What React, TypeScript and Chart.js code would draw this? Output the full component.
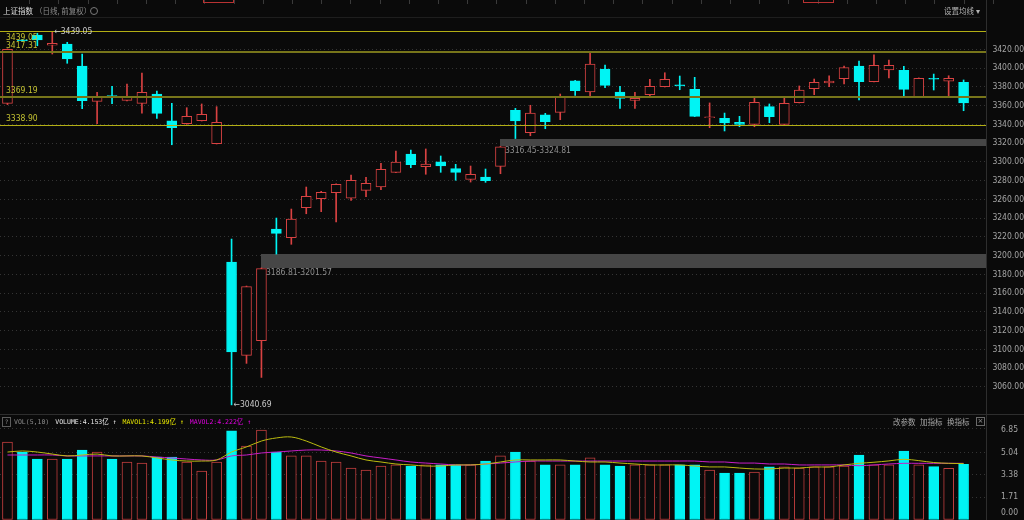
import React, { useEffect, useRef } from "react";
import { Chart, registerables } from "chart.js";

Chart.register(...registerables);

// ---------- data ----------
const DATES = [
  "2025-03-14", "2025-03-17", "2025-03-18", "2025-03-19", "2025-03-20", "2025-03-21", "2025-03-24", "2025-03-25",
  "2025-03-26", "2025-03-27", "2025-03-28", "2025-03-31", "2025-04-01", "2025-04-02", "2025-04-03", "2025-04-07",
  "2025-04-08", "2025-04-09", "2025-04-10", "2025-04-11", "2025-04-14", "2025-04-15", "2025-04-16", "2025-04-17",
  "2025-04-18", "2025-04-21", "2025-04-22", "2025-04-23", "2025-04-24", "2025-04-25", "2025-04-28", "2025-04-29",
  "2025-04-30", "2025-05-06", "2025-05-07", "2025-05-08", "2025-05-09", "2025-05-12", "2025-05-13", "2025-05-14",
  "2025-05-15", "2025-05-16", "2025-05-19", "2025-05-20", "2025-05-21", "2025-05-22", "2025-05-23", "2025-05-26",
  "2025-05-27", "2025-05-28", "2025-05-29", "2025-05-30", "2025-06-03", "2025-06-04", "2025-06-05", "2025-06-06",
  "2025-06-09", "2025-06-10", "2025-06-11", "2025-06-12", "2025-06-13", "2025-06-16", "2025-06-17", "2025-06-18",
  "2025-06-19",
];

const OPEN = [
  3362.4, 3430.0, 3435.3, 3424.3, 3425.7, 3402.2, 3364.5, 3370.0, 3365.6, 3362.4,
  3372.3, 3343.8, 3340.6, 3343.8, 3319.3, 3193.1, 3093.6, 3109.3, 3228.3, 3219.0,
  3251.0, 3260.6, 3267.0, 3261.1, 3269.6, 3273.1, 3288.8, 3308.3, 3294.8, 3300.1,
  3292.7, 3281.3, 3283.8, 3295.2, 3354.9, 3331.0, 3350.2, 3352.8, 3386.5, 3374.5,
  3399.0, 3374.5, 3365.6, 3371.6, 3380.1, 3381.5, 3377.3, 3347.0, 3346.4, 3342.1,
  3340.0, 3358.8, 3340.0, 3363.0, 3378.0, 3384.1, 3388.6, 3402.2, 3385.4, 3397.9,
  3397.6, 3369.1, 3388.5, 3385.9, 3384.8,
];
const HIGH = [
  3420.5, 3430.2, 3437.1, 3439.05, 3427.5, 3415.0, 3374.1, 3380.5, 3383.0, 3394.7,
  3375.5, 3362.4, 3357.7, 3361.7, 3358.8, 3217.6, 3167.5, 3186.81, 3240.0, 3249.6,
  3273.1, 3268.5, 3276.5, 3285.9, 3283.4, 3298.4, 3311.5, 3312.6, 3313.7, 3306.2,
  3297.3, 3295.5, 3292.3, 3316.45, 3357.0, 3360.3, 3351.7, 3372.3, 3387.0, 3417.1,
  3403.3, 3380.5, 3374.1, 3388.0, 3395.0, 3391.5, 3390.1, 3362.8, 3352.0, 3348.5,
  3369.1, 3361.7, 3367.7, 3380.9, 3388.3, 3391.8, 3402.2, 3407.5, 3414.2, 3408.6,
  3401.8, 3389.5, 3393.6, 3391.8, 3387.3,
];
const LOW = [
  3361.0, 3428.8, 3423.8, 3415.0, 3405.1, 3356.6, 3340.6, 3362.0, 3365.0, 3352.0,
  3346.4, 3318.2, 3340.0, 3343.5, 3319.0, 3040.69, 3085.0, 3070.0, 3201.57, 3212.0,
  3244.6, 3246.8, 3235.8, 3258.9, 3262.8, 3270.4, 3288.5, 3293.7, 3286.7, 3288.8,
  3280.3, 3278.4, 3278.1, 3287.3, 3324.81, 3327.8, 3335.3, 3344.9, 3370.9, 3368.4,
  3379.0, 3357.0, 3357.0, 3368.8, 3379.8, 3376.9, 3348.2, 3336.4, 3332.9, 3337.4,
  3337.4, 3341.7, 3339.8, 3362.8, 3371.6, 3380.1, 3383.0, 3365.9, 3385.2, 3389.4,
  3370.2, 3368.9, 3376.6, 3370.2, 3354.5,
];
const CLOSE = [
  3420.0, 3429.0, 3429.9, 3426.4, 3409.7, 3365.2, 3369.9, 3369.6, 3368.8, 3374.1,
  3351.7, 3336.4, 3348.5, 3350.7, 3342.0, 3097.1, 3166.8, 3186.0, 3223.7, 3239.0,
  3263.2, 3267.5, 3276.0, 3280.3, 3277.0, 3292.0, 3299.8, 3296.9, 3297.6, 3295.5,
  3288.8, 3286.7, 3279.9, 3316.1, 3343.5, 3352.0, 3342.8, 3368.8, 3375.8, 3404.3,
  3381.6, 3367.7, 3367.7, 3380.5, 3388.0, 3381.0, 3348.5, 3347.4, 3341.4, 3340.0,
  3363.5, 3348.1, 3362.4, 3376.6, 3384.8, 3386.2, 3400.4, 3385.4, 3402.9, 3402.9,
  3377.3, 3389.0, 3388.1, 3389.0, 3362.7,
];

// volume in 亿
const VOLUME = [
  5.81, 5.06, 4.54, 4.54, 4.54, 5.21, 5.06, 4.54, 4.32, 4.24,
  4.69, 4.69, 4.32, 3.65, 4.32, 6.63, 5.51, 6.70, 5.06, 4.77,
  4.77, 4.39, 4.32, 3.87, 3.72, 4.02, 4.10, 4.02, 4.10, 4.10,
  4.10, 4.10, 4.39, 4.77, 5.06, 4.39, 4.10, 4.10, 4.10, 4.62,
  4.10, 4.02, 4.10, 4.10, 4.10, 4.10, 4.10, 3.72, 3.50, 3.50,
  3.57, 3.95, 3.95, 3.87, 3.95, 3.95, 4.02, 4.84, 4.10, 4.10,
  5.14, 4.10, 3.97, 3.85, 4.153,
];
const MAVOL1 = [
  5.06, 5.14, 5.06, 4.91, 4.77, 4.84, 4.91, 4.77, 4.77, 4.77,
  4.62, 4.47, 4.39, 4.39, 4.47, 5.06, 5.44, 5.88, 6.11, 6.18,
  5.88, 5.44, 5.06, 4.77, 4.47, 4.32, 4.17, 4.10, 4.02, 4.02,
  4.10, 4.10, 4.17, 4.32, 4.47, 4.47, 4.47, 4.47, 4.39, 4.32,
  4.32, 4.24, 4.17, 4.10, 4.10, 4.10, 4.02, 3.95, 3.95, 3.87,
  3.80, 3.80, 3.87, 3.87, 3.95, 3.95, 4.10, 4.22, 4.30, 4.40,
  4.52, 4.42, 4.28, 4.22, 4.199,
];
const MAVOL2 = [
  4.84, 4.84, 4.84, 4.84, 4.77, 4.77, 4.77, 4.77, 4.77, 4.77,
  4.69, 4.62, 4.54, 4.47, 4.47, 4.77, 4.84, 4.99, 5.06, 5.14,
  5.21, 5.21, 5.14, 4.99, 4.77, 4.62, 4.47, 4.32, 4.24, 4.17,
  4.10, 4.10, 4.17, 4.24, 4.32, 4.39, 4.39, 4.39, 4.39, 4.39,
  4.39, 4.39, 4.39, 4.39, 4.39, 4.39, 4.39, 4.32, 4.32, 4.24,
  4.24, 4.17, 4.17, 4.10, 4.10, 4.10, 4.10, 4.04, 4.10, 4.17,
  4.22, 4.22, 4.22, 4.22, 4.222,
];

const PRICE_TICKS = [
  3060, 3080, 3100, 3120, 3140, 3160, 3180, 3200, 3220, 3240,
  3260, 3280, 3300, 3320, 3340, 3360, 3380, 3400, 3420,
];
const VOL_TICKS = [0, 1.71, 3.38, 5.04, 6.85];

const LEVELS = [3439.05, 3417.31, 3369.19, 3338.9];
const GAP_LOW = [3186.81, 3316.45];
const GAP_HIGH = [3201.57, 3324.81];
const GAP_START = [17, 33]; // index of candle where the gap begins

// ---------- styles ----------
const PRICE_MIN = 3032.05;
const PRICE_MAX = 3453.4;
const VOL_MAX = 6.85;
const BG = "#0a0a0a";
const RED = "#d84242";
const VOL_RED = "#c23e3e";
const CYAN = "#00f4f4";
const AXIS_TEXT = "#a4a4a4";
const SEP = "#2e2e2e";
const GRID = "#343434";
const LEVEL_WIDTHS = [1, 2, 2, 1];
const LEVEL_COLORS = ["#b2ae14", "#77751a", "#77751a", "#b2ae14"];
const LEVEL_TEXT = "#c4c232";
const NUM_FONT = "'Liberation Sans Narrow', 'DejaVu Sans Condensed', 'DejaVu Sans', sans-serif";
const MONO_FONT = "'DejaVu Sans Mono', 'Noto Sans CJK SC', monospace";
const CJK_FONT = "'Noto Sans CJK SC', 'Noto Sans', sans-serif";

const LABELS = [...DATES, ""];
const UP = CLOSE.map((c, i) => c >= OPEN[i]);

const mainOverlay = {
  id: "mainOverlay",
  beforeDatasetsDraw(chart: any) {
    const { ctx, chartArea, scales } = chart;
    const x = scales.x;
    const y = scales.y;
    ctx.save();
    GAP_LOW.forEach((lo: number, i: number) => {
      const x0 = Math.round(x.getPixelForValue(GAP_START[i]));
      const yt = Math.round(y.getPixelForValue(GAP_HIGH[i]));
      const yb = Math.round(y.getPixelForValue(lo));
      ctx.fillStyle = "#464646";
      ctx.fillRect(x0, yt, chartArea.right - x0, yb - yt);
    });
    ctx.restore();
  },
  afterDatasetsDraw(chart: any) {
    const { ctx, chartArea, scales } = chart;
    const x = scales.x;
    const y = scales.y;
    ctx.save();
    ctx.font = `8.5px ${NUM_FONT}`;
    LEVELS.forEach((v: number, i: number) => {
      const py = y.getPixelForValue(v);
      const w = LEVEL_WIDTHS[i];
      const yy = w % 2 ? Math.round(py) + 0.5 : Math.round(py);
      ctx.strokeStyle = LEVEL_COLORS[i];
      ctx.lineWidth = w;
      ctx.beginPath();
      ctx.moveTo(chartArea.left, yy);
      ctx.lineTo(chartArea.right, yy);
      ctx.stroke();
      ctx.fillStyle = LEVEL_TEXT;
      ctx.textAlign = "left";
      if (py - 14 > chartArea.top) {
        ctx.textBaseline = "bottom";
        ctx.fillText(v.toFixed(2), 6, yy - 2);
      } else {
        ctx.textBaseline = "top";
        ctx.fillText(v.toFixed(2), 6, yy + 2);
      }
    });
    ctx.fillStyle = "#8e8e8e";
    ctx.textBaseline = "top";
    GAP_LOW.forEach((lo: number, i: number) => {
      const x0 = Math.round(x.getPixelForValue(GAP_START[i]));
      const yb = Math.round(y.getPixelForValue(lo));
      ctx.fillText(`${lo.toFixed(2)}-${GAP_HIGH[i].toFixed(2)}`, x0 + 5, yb + 1);
    });
    const maxH = Math.max(...HIGH);
    const minL = Math.min(...LOW);
    const hiIdx = HIGH.indexOf(maxH);
    const loIdx = LOW.indexOf(minL);
    ctx.fillStyle = "#c8c8c8";
    ctx.textBaseline = "middle";
    ctx.fillText("\u2190" + maxH.toFixed(2), x.getPixelForValue(hiIdx) + 2, y.getPixelForValue(maxH));
    ctx.fillText("\u2190" + minL.toFixed(2), x.getPixelForValue(loIdx) + 2, y.getPixelForValue(minL));
    ctx.restore();
  },
  afterDraw(chart: any) {
    const { ctx, chartArea } = chart;
    ctx.save();
    ctx.strokeStyle = SEP;
    ctx.lineWidth = 1;
    ctx.beginPath();
    ctx.moveTo(Math.round(chartArea.right) + 0.5, 0);
    ctx.lineTo(Math.round(chartArea.right) + 0.5, chart.height);
    ctx.stroke();
    ctx.strokeStyle = "#1e1e1e";
    ctx.beginPath();
    ctx.moveTo(0, 17.5);
    ctx.lineTo(chartArea.right - 6, 17.5);
    ctx.stroke();
    ctx.restore();
  },
};

const volOverlay = {
  id: "volOverlay",
  afterDraw(chart: any) {
    const { ctx, chartArea, scales } = chart;
    const y = scales.y;
    ctx.save();
    ctx.strokeStyle = SEP;
    ctx.lineWidth = 1;
    ctx.beginPath();
    ctx.moveTo(0, 0.5);
    ctx.lineTo(chart.width, 0.5);
    ctx.moveTo(Math.round(chartArea.right) + 0.5, 0);
    ctx.lineTo(Math.round(chartArea.right) + 0.5, chart.height);
    ctx.stroke();
    ctx.font = `8.5px ${NUM_FONT}`;
    ctx.fillStyle = AXIS_TEXT;
    ctx.textAlign = "right";
    ctx.textBaseline = "middle";
    VOL_TICKS.forEach((v: number) => {
      let py = y.getPixelForValue(v);
      py = Math.min(Math.max(py, 16), chart.height - 7);
      ctx.fillText(v.toFixed(2), 1018, py);
    });
    ctx.restore();
  },
};

export default function App() {
  const mainRef = useRef<HTMLCanvasElement | null>(null);
  const volRef = useRef<HTMLCanvasElement | null>(null);

  useEffect(() => {
    const mainChart = new Chart(mainRef.current as HTMLCanvasElement, {
      type: "bar",
      data: {
        labels: LABELS,
        datasets: [
          {
            label: "body",
            data: OPEN.map((o, i) => [o, CLOSE[i]]),
            backgroundColor: UP.map((u) => (u ? BG : CYAN)),
            borderColor: UP.map((u) => (u ? RED : CYAN)),
            borderWidth: 1,
            borderSkipped: false,
            barThickness: 10,
            minBarLength: 1,
            grouped: false,
          } as any,
          {
            label: "wick",
            data: LOW.map((l, i) => [l, HIGH[i]]),
            backgroundColor: UP.map((u) => (u ? RED : CYAN)),
            borderWidth: 0,
            barThickness: 1,
            grouped: false,
          } as any,
        ],
      },
      options: {
        animation: false,
        responsive: false,
        maintainAspectRatio: false,
        events: [],
        layout: { padding: { top: 18, bottom: 1, left: 0, right: 0 } },
        plugins: { legend: { display: false }, tooltip: { enabled: false } },
        scales: {
          x: { type: "category", display: false, offset: true, grid: { display: false } },
          y: {
            position: "right",
            min: PRICE_MIN,
            max: PRICE_MAX,
            afterBuildTicks: (s: any) => {
              s.ticks = PRICE_TICKS.map((v) => ({ value: v }));
            },
            afterFit: (s: any) => {
              s.width = 38;
              s.paddingTop = 0;
              s.paddingBottom = 0;
            },
            ticks: {
              autoSkip: false,
              callback: (v: any) => Number(v).toFixed(2),
              color: AXIS_TEXT,
              font: { family: NUM_FONT, size: 8.5 },
              padding: 6,
              crossAlign: "far",
            },
            grid: { color: GRID, drawTicks: false, tickLength: 0 },
            border: { display: false, dash: [1, 3] },
          } as any,
        },
      },
      plugins: [mainOverlay],
    });

    const volChart = new Chart(volRef.current as HTMLCanvasElement, {
      type: "bar",
      data: {
        labels: LABELS,
        datasets: [
          {
            type: "line",
            label: "MAVOL1",
            data: MAVOL1,
            borderColor: "#bcbc10",
            borderWidth: 1,
            pointRadius: 0,
            tension: 0.35,
          } as any,
          {
            type: "line",
            label: "MAVOL2",
            data: MAVOL2,
            borderColor: "#c81ec8",
            borderWidth: 1,
            pointRadius: 0,
            tension: 0.35,
          } as any,
          {
            type: "bar",
            label: "VOLUME",
            data: VOLUME,
            backgroundColor: UP.map((u) => (u ? BG : CYAN)),
            borderColor: UP.map((u) => (u ? VOL_RED : CYAN)),
            borderWidth: 1,
            borderSkipped: false,
            barThickness: 10,
          } as any,
        ],
      },
      options: {
        animation: false,
        responsive: false,
        maintainAspectRatio: false,
        events: [],
        layout: { padding: { top: 14, bottom: 0, left: 0, right: 0 } },
        plugins: { legend: { display: false }, tooltip: { enabled: false } },
        scales: {
          x: { type: "category", display: false, offset: true, grid: { display: false } },
          y: {
            position: "right",
            min: 0,
            max: VOL_MAX,
            afterBuildTicks: (s: any) => {
              s.ticks = VOL_TICKS.map((v) => ({ value: v }));
            },
            afterFit: (s: any) => {
              s.width = 38;
              s.paddingTop = 0;
              s.paddingBottom = 0;
            },
            ticks: { display: false },
            grid: { color: GRID, drawTicks: false, tickLength: 0 },
            border: { display: false, dash: [1, 3] },
          } as any,
        },
      },
      plugins: [volOverlay],
    });

    return () => {
      mainChart.destroy();
      volChart.destroy();
    };
  }, []);

  const last = VOLUME.length - 1;
  const small = { position: "absolute" as const, whiteSpace: "nowrap" as const, lineHeight: "10px" };
  const cjkFont = { fontFamily: CJK_FONT, fontSize: 7.5 };

  return (
    <div
      style={{
        position: "fixed",
        left: 0,
        top: 0,
        width: 1024,
        height: 520,
        background: BG,
        overflow: "hidden",
      }}
    >
      <canvas ref={mainRef} width={1024} height={414} style={{ position: "absolute", left: 0, top: 0 }} />
      <canvas ref={volRef} width={1024} height={106} style={{ position: "absolute", left: 0, top: 414 }} />

      {/* top tab strip */}
      {Array.from({ length: 34 }, (_, k) => (
        <div
          key={k}
          style={{ position: "absolute", left: Math.round((k + 1) * 29.2), top: 0, width: 1, height: 4, background: "#3a3a3a" }}
        />
      ))}
      <div style={{ position: "absolute", left: 203, top: -1, width: 29, height: 3, border: "1px solid #b83232", borderTop: "none" }} />
      <div style={{ position: "absolute", left: 803, top: -1, width: 29, height: 3, border: "1px solid #b83232", borderTop: "none" }} />

      {/* main header */}
      <div style={{ ...small, ...cjkFont, left: 3, top: 6, color: "#dcdcdc" }}>上证指数</div>
      <div style={{ ...small, ...cjkFont, left: 35, top: 6, color: "#8a8a8a" }}>（日线, 前复权）</div>
      <div
        style={{
          position: "absolute",
          left: 90,
          top: 7,
          width: 6,
          height: 6,
          borderRadius: "50%",
          border: "1px solid #7a7a7a",
        }}
      />
      <div style={{ ...small, ...cjkFont, left: 944, top: 6, color: "#b4b4b4" }}>设置均线 ▾</div>

      {/* volume header */}
      <div
        style={{
          position: "absolute",
          left: 2,
          top: 417,
          width: 7,
          height: 8,
          border: "1px solid #5c5c5c",
          color: "#8a8a8a",
          fontFamily: MONO_FONT,
          fontSize: 6,
          lineHeight: "8px",
          textAlign: "center",
        }}
      >
        ?
      </div>
      <div
        style={{
          position: "absolute",
          left: 14,
          top: 417,
          display: "flex",
          gap: 6,
          whiteSpace: "nowrap",
          fontFamily: MONO_FONT,
          fontSize: 6.5,
          lineHeight: "10px",
        }}
      >
        <span style={{ color: "#8c8c8c" }}>VOL(5,10)</span>
        <span style={{ color: "#e8e8e8" }}>
          VOLUME:{VOLUME[last].toFixed(3)}亿 ↑
        </span>
        <span style={{ color: "#e8e800" }}>
          MAVOL1:{MAVOL1[last].toFixed(3)}亿 ↑
        </span>
        <span style={{ color: "#e000e0" }}>
          MAVOL2:{MAVOL2[last].toFixed(3)}亿 ↑
        </span>
      </div>
      <div style={{ ...small, ...cjkFont, left: 893, top: 417, color: "#a6a6a6" }}>改参数</div>
      <div style={{ ...small, ...cjkFont, left: 920, top: 417, color: "#a6a6a6" }}>加指标</div>
      <div style={{ ...small, ...cjkFont, left: 947, top: 417, color: "#a6a6a6" }}>换指标</div>
      <div
        style={{
          position: "absolute",
          left: 976,
          top: 417,
          width: 7,
          height: 7,
          border: "1px solid #6a6a6a",
          color: "#9a9a9a",
          fontFamily: "DejaVu Sans",
          fontSize: 7,
          lineHeight: "7px",
          textAlign: "center",
        }}
      >
        ×
      </div>
    </div>
  );
}
